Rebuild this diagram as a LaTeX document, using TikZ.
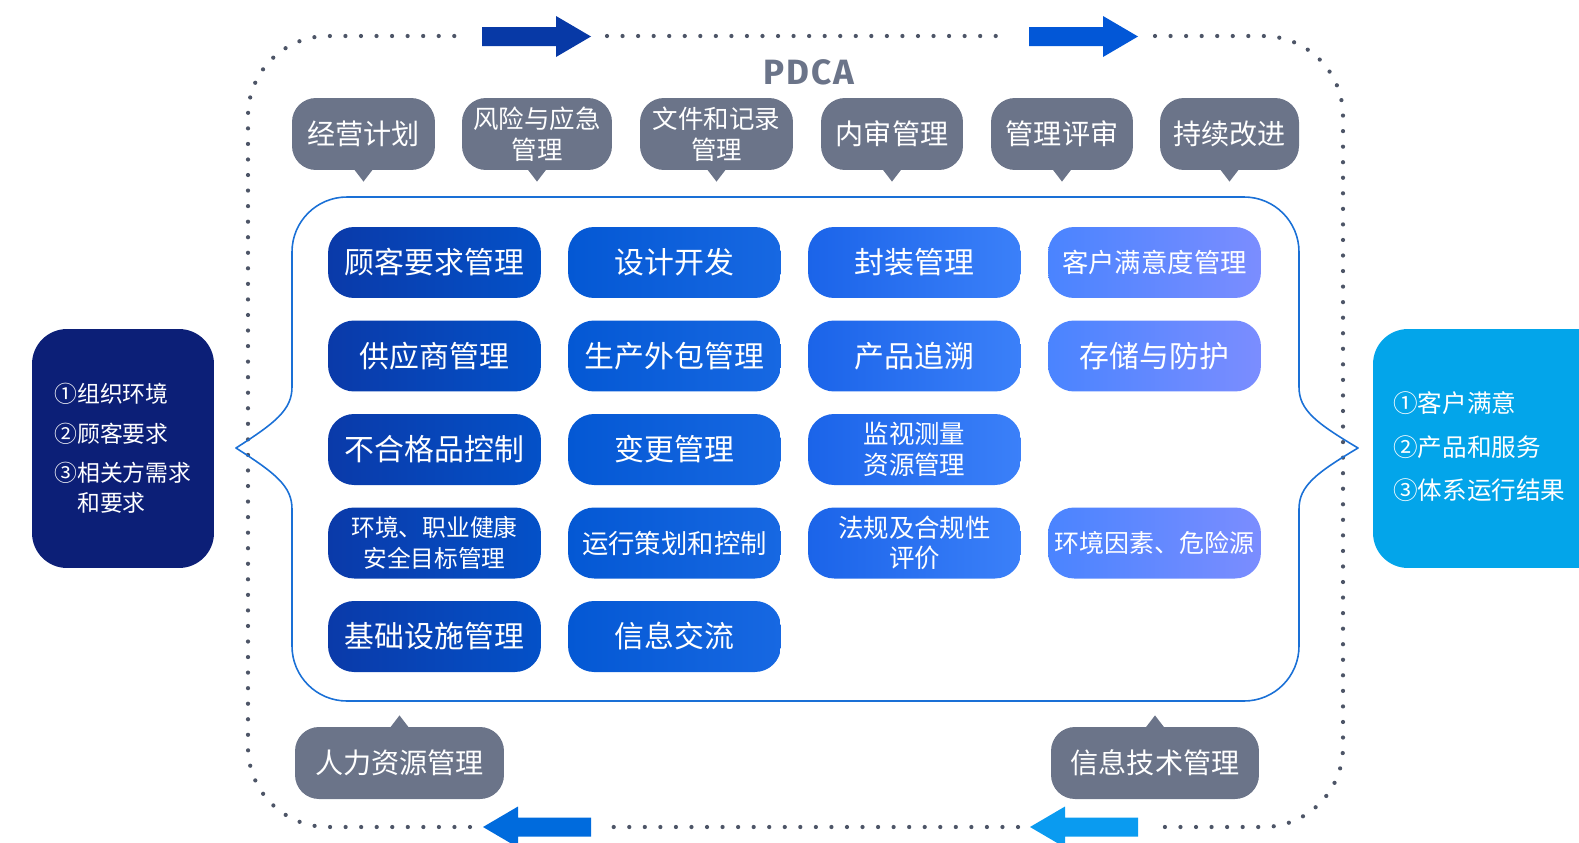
\documentclass[tikz,border=0pt]{standalone}
\usepackage{fontspec}
\setmainfont{Noto Sans CJK SC}
\newfontfamily\pdcafont{Fira Sans}[LetterSpace=6]
\definecolor{calloutgray}{HTML}{6B7489}
\definecolor{dotgray}{HTML}{4D5567}
\definecolor{frameblue}{HTML}{1A70D6}
\definecolor{navy}{HTML}{0C1F77}
\definecolor{skyblue}{HTML}{03A5EA}
\definecolor{arrowA}{HTML}{0739A6}
\definecolor{arrowB}{HTML}{0257D7}
\definecolor{arrowC}{HTML}{006BDD}
\definecolor{arrowD}{HTML}{0A9BF0}
\definecolor{bl1}{HTML}{0A3AA9}\definecolor{br1}{HTML}{0451C8}
\definecolor{bl2}{HTML}{0458D4}\definecolor{br2}{HTML}{1768E2}
\definecolor{bl3}{HTML}{1B64E9}\definecolor{br3}{HTML}{3B80F9}
\definecolor{bl4}{HTML}{4A84FF}\definecolor{br4}{HTML}{7B8DFF}
\tikzset{
  callout/.style={fill=calloutgray,text=white,rounded corners=0.48cm,minimum height=1.44cm,inner sep=0pt,align=center,font=\fontsize{16}{19}\selectfont},
  calloutsm/.style={callout,font=\fontsize{14.5}{17.6}\selectfont},
  bluebox/.style={rounded corners=0.52cm,minimum width=4.26cm,minimum height=1.42cm,inner sep=0pt,text=white,align=center},
  sidebox/.style={rounded corners=0.7cm,minimum height=4.78cm,inner sep=0pt,text=white},
  dotline/.style={draw=dotgray,line width=2.4pt,line cap=round,dash pattern=on 0pt off 8.85pt,rounded corners=1.6cm},
  frame/.style={draw=frameblue,line width=0.9pt}
}
\begin{document}
\begin{tikzpicture}[x=0.02cm,y=-0.02cm,line join=round]
\useasboundingbox (0,0) rectangle (1579,842);
% dotted PDCA loop with arrows
\draw[dotline] (607,36) -- (1008,36);
\draw[dotline] (1155,36) -- (1343,36) -- (1343,827) -- (1154,827);
\draw[dotline] (1018,827) -- (607,827);
\draw[dotline] (470,827) -- (248,827) -- (248,36) -- (467,36);
\foreach \x/\col in {482/arrowA,1029/arrowB}{\fill[\col] (\x,27) -- ++(74,0) -- ++(0,-11) -- ++(35,20.5) -- ++(-35,20.5) -- ++(0,-11) -- ++(-74,0) -- cycle;}
\foreach \x/\col in {591/arrowC,1138/arrowD}{\fill[\col] (\x,817.5) -- ++(-73,0) -- ++(0,-11) -- ++(-35,20.5) -- ++(35,20.5) -- ++(0,-11) -- ++(73,0) -- cycle;}
\node[text=calloutgray,font=\pdcafont\bfseries\fontsize{20}{24}\selectfont] (pdca) at (809,72) {PDCA};
% callouts
\node[callout,minimum width=2.86cm] (jyjh) at (363.5,134) {经营计划};
\node[calloutsm,minimum width=3.0cm] (fxyj) at (537,134) {风险与应急\\管理};
\node[calloutsm,minimum width=3.06cm] (wjjl) at (716.5,134) {文件和记录\\管理};
\node[callout,minimum width=2.84cm] (nsgl) at (892,134) {内审管理};
\node[callout,minimum width=2.84cm] (glps) at (1062,134) {管理评审};
\node[callout,minimum width=2.78cm] (cxgj) at (1229.5,134) {持续改进};
\foreach \n in {jyjh,fxyj,wjjl,nsgl,glps,cxgj}{\fill[calloutgray] ([yshift=1pt]\n.south) ++(-10,0) -- ++(10,13) -- ++(10,-13) -- cycle;}
\node[callout,minimum width=4.18cm] (rlzy) at (399.5,763) {人力资源管理};
\node[callout,minimum width=4.16cm] (xxjs) at (1155,763) {信息技术管理};
\foreach \n in {rlzy,xxjs}{\fill[calloutgray] ([yshift=-1pt]\n.north) ++(-10,0) -- ++(10,-13) -- ++(10,13) -- cycle;}
% brace frame
\draw[frame] (292,387) -- (292,252) .. controls (292,221.6) and (316.6,197) .. (347,197) -- (1244,197)
  .. controls (1274.4,197) and (1299,221.6) .. (1299,252) -- (1299,387)
  .. controls (1299,410) and (1316,423) .. (1358,448) .. controls (1316,473) and (1299,486) .. (1299,509)
  -- (1299,646) .. controls (1299,676.4) and (1274.4,701) .. (1244,701) -- (347,701)
  .. controls (316.6,701) and (292,676.4) .. (292,646) -- (292,509)
  .. controls (292,486) and (275,473) .. (236,448) .. controls (275,423) and (292,410) .. (292,387) -- cycle;
% process boxes
\foreach \n/\c/\r/\s/\t in {gkyq/1/1/17/{顾客要求管理},sjkf/2/1/17/{设计开发},fzgl/3/1/17/{封装管理},khmy/4/1/15/{客户满意度管理},
  gysg/1/2/17/{供应商管理},scwb/2/2/17/{生产外包管理},cpzs/3/2/17/{产品追溯},ccfh/4/2/17/{存储与防护},
  bhgp/1/3/17/{不合格品控制},bggl/2/3/17/{变更管理},jscl/3/3/14.5/{监视测量\\资源管理},
  hjzy/1/4/13.5/{环境、职业健康\\安全目标管理},yxch/2/4/15/{运行策划和控制},fghg/3/4/14.5/{法规及合规性\\评价},hjys/4/4/14.2/{环境因素、危险源},
  jcss/1/5/17/{基础设施管理},xxjl/2/5/17/{信息交流}}
  {\node[bluebox,left color=bl\c,right color=br\c,font=\fontsize{\s}{17.5}\selectfont] (\n) at ({194.5+240*\c},{169+93.5*\r}) {\t};}
% input and output
\node[sidebox,fill=navy,minimum width=3.64cm,align=left,font=\fontsize{13}{17}\selectfont] (input) at (123,448.5) {①组织环境\\[5.5pt]②顾客要求\\[5.5pt]③相关方需求\\\phantom{③}和要求};
\node[sidebox,fill=skyblue,minimum width=5.2cm] (output) at (1503,448.5) {};
\node[anchor=west,inner sep=0pt,text=white,align=left,font=\fontsize{14}{24.7}\selectfont] (outtxt) at (1393,447) {①客户满意\\②产品和服务\\③体系运行结果};
\end{tikzpicture}
\end{document}
